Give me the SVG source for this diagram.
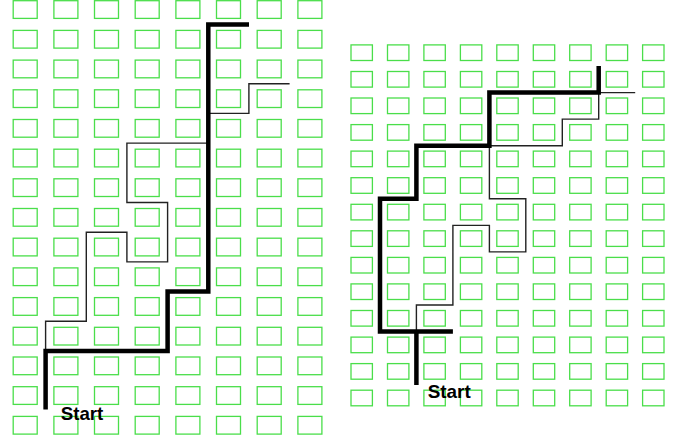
<svg xmlns="http://www.w3.org/2000/svg" xmlns:xlink="http://www.w3.org/1999/xlink" width="678" height="442" viewBox="0 0 678 442">
  <style>
    .cell { fill: none; stroke: #4ade4a; stroke-width: 1.3; }
    .thick { fill: none; stroke: #000; stroke-width: 4.5; stroke-linejoin: miter; stroke-linecap: butt; }
    .thin { fill: none; stroke: #222; stroke-width: 1.4; stroke-linejoin: miter; }
    .label { font-family: "Liberation Sans", Arial, sans-serif; font-weight: bold; font-size: 19px; fill: #000; }
  </style>
  <defs>
    <g id="rowL">
      <rect class="cell" x="13.2" y="0" width="24" height="17.7"/>
      <rect class="cell" x="53.9" y="0" width="24" height="17.7"/>
      <rect class="cell" x="94.5" y="0" width="24" height="17.7"/>
      <rect class="cell" x="135.2" y="0" width="24" height="17.7"/>
      <rect class="cell" x="175.9" y="0" width="24" height="17.7"/>
      <rect class="cell" x="216.5" y="0" width="24" height="17.7"/>
      <rect class="cell" x="257.2" y="0" width="24" height="17.7"/>
      <rect class="cell" x="297.9" y="0" width="24" height="17.7"/>
    </g>
    <g id="rowR">
      <rect class="cell" x="351" y="0" width="21.4" height="15.6"/>
      <rect class="cell" x="387.5" y="0" width="21.4" height="15.6"/>
      <rect class="cell" x="423.9" y="0" width="21.4" height="15.6"/>
      <rect class="cell" x="460.4" y="0" width="21.4" height="15.6"/>
      <rect class="cell" x="496.8" y="0" width="21.4" height="15.6"/>
      <rect class="cell" x="533.3" y="0" width="21.4" height="15.6"/>
      <rect class="cell" x="569.7" y="0" width="21.4" height="15.6"/>
      <rect class="cell" x="606.2" y="0" width="21.4" height="15.6"/>
      <rect class="cell" x="642.6" y="0" width="21.4" height="15.6"/>
    </g>
  </defs>
  <rect x="0" y="0" width="678" height="442" fill="#fff"/>

  <g id="grid-left">
    <use xlink:href="#rowL" href="#rowL" y="0.7"/>
    <use xlink:href="#rowL" href="#rowL" y="30.4"/>
    <use xlink:href="#rowL" href="#rowL" y="60.1"/>
    <use xlink:href="#rowL" href="#rowL" y="89.8"/>
    <use xlink:href="#rowL" href="#rowL" y="119.5"/>
    <use xlink:href="#rowL" href="#rowL" y="149.2"/>
    <use xlink:href="#rowL" href="#rowL" y="178.8"/>
    <use xlink:href="#rowL" href="#rowL" y="208.5"/>
    <use xlink:href="#rowL" href="#rowL" y="238.2"/>
    <use xlink:href="#rowL" href="#rowL" y="267.9"/>
    <use xlink:href="#rowL" href="#rowL" y="297.6"/>
    <use xlink:href="#rowL" href="#rowL" y="327.3"/>
    <use xlink:href="#rowL" href="#rowL" y="357"/>
    <use xlink:href="#rowL" href="#rowL" y="386.7"/>
    <use xlink:href="#rowL" href="#rowL" y="416.4"/>
  </g>

  <g id="grid-right">
    <use xlink:href="#rowR" href="#rowR" y="44.9"/>
    <use xlink:href="#rowR" href="#rowR" y="71.5"/>
    <use xlink:href="#rowR" href="#rowR" y="98"/>
    <use xlink:href="#rowR" href="#rowR" y="124.6"/>
    <use xlink:href="#rowR" href="#rowR" y="151.1"/>
    <use xlink:href="#rowR" href="#rowR" y="177.7"/>
    <use xlink:href="#rowR" href="#rowR" y="204.3"/>
    <use xlink:href="#rowR" href="#rowR" y="230.8"/>
    <use xlink:href="#rowR" href="#rowR" y="257.4"/>
    <use xlink:href="#rowR" href="#rowR" y="283.9"/>
    <use xlink:href="#rowR" href="#rowR" y="310.5"/>
    <use xlink:href="#rowR" href="#rowR" y="337.1"/>
    <use xlink:href="#rowR" href="#rowR" y="363.6"/>
    <use xlink:href="#rowR" href="#rowR" y="390.2"/>
  </g>

  <g id="connectors">
    <path class="thin" d="M289.6,83.7 H248.9 V113.4 H208.3 V143.1 H126.9 V202.5 H167.6 V261.9 H126.9 V232.2 H86.3 V321.3 H45.6 V351"/>
    <path class="thick" d="M45.6,409.5 V351 H167.6 V291.6 H208.3 V24.5 H249"/>
    <path class="thin" d="M635.2,92.6 H598.7 V119.1 H562.3 V145.7 H489.4 V198.8 H525.8 V251.9 H489.4 V225.4 H452.9 V305 H416.4 V331.6"/>
    <path class="thick" d="M452.9,331.6 H380 V198.8 H416.4 V145.7 H489.4 V92.6 H598.7 V66"/>
    <path class="thick" d="M416.4,385 V331.6"/>
  </g>

  <g id="label-left">
    <text class="label" x="60.7" y="420" textLength="42.6" lengthAdjust="spacingAndGlyphs">Start</text>
  </g>
  <g id="label-right">
    <text class="label" x="427.7" y="398" textLength="43" lengthAdjust="spacingAndGlyphs">Start</text>
  </g>
</svg>
